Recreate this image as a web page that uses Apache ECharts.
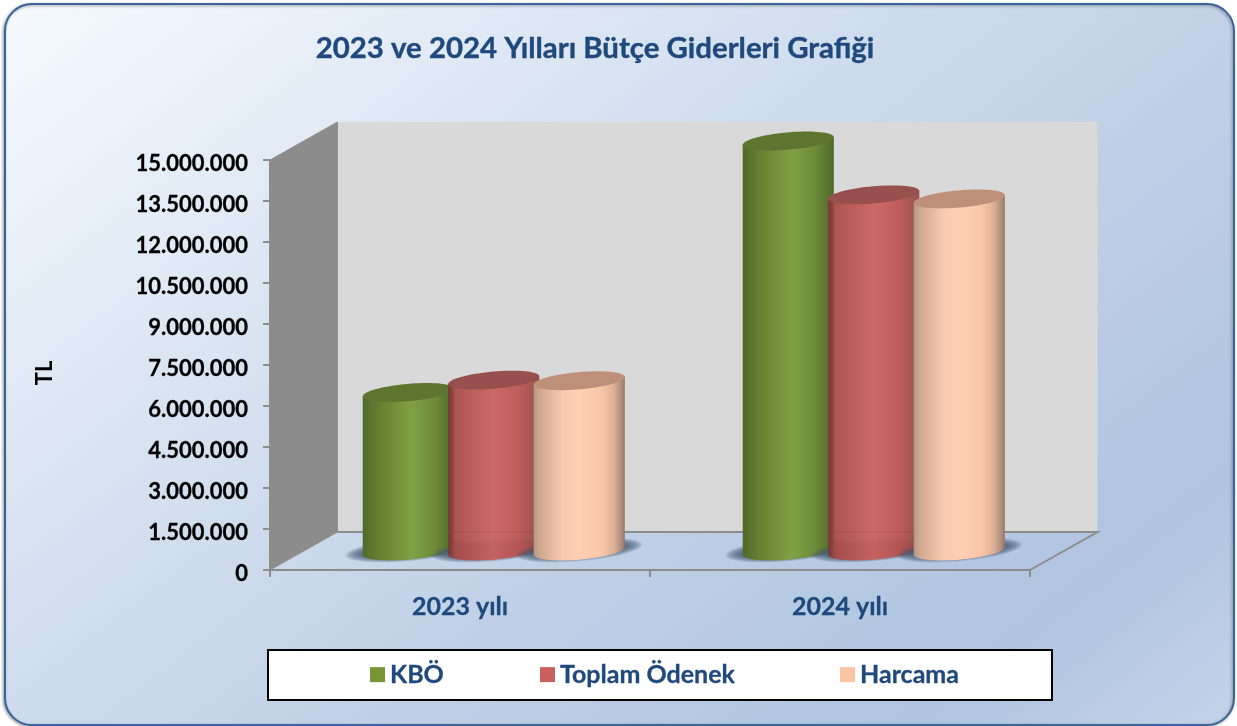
<!DOCTYPE html>
<html>
<head>
<meta charset="utf-8">
<title>Bütçe Giderleri</title>
<style>
  html, body { margin: 0; padding: 0; background: #fff; }
  #chart { width: 1237px; height: 726px; }
</style>
<script src="https://cdn.jsdelivr.net/npm/echarts@6/dist/echarts.min.js"></script>
</head>
<body>
<div id="chart"></div>
<script>
/* data */
const categories = ['2023 yılı', '2024 yılı'];
const seriesNames = ['KBÖ', 'Toplam Ödenek', 'Harcama'];
const kbo = [5800000, 15000000];
const toplamOdenek = [6250000, 13030000];
const harcama = [6230000, 12880000];

/* 3d look of the plot */
const DEPTH_X = 67.5, DEPTH_Y = 38;
const BAR_STEP = 85.5, RX = 45.7, RY = 8.6, TILT = 5 * Math.PI / 180;
const textBlue = '#1f497d';
const fontName = 'Lato';
const legendLeft = [370, 540, 840];

const chart = echarts.init(document.getElementById('chart'));

function hGradient(stops) {
  return new echarts.graphic.LinearGradient(0, 0, 1, 0, stops.map(s => ({ offset: s[0], color: s[1] })));
}

function ellipsePoint(cx, cy, t, a, b) {
  return [
    cx + a * Math.cos(t) * Math.cos(TILT) + b * Math.sin(t) * Math.sin(TILT),
    cy - a * Math.cos(t) * Math.sin(TILT) + b * Math.sin(t) * Math.cos(TILT)
  ];
}

function ellipse(cx, cy, a, b) {
  const pts = [];
  for (let i = 0; i < 72; i++) pts.push(ellipsePoint(cx, cy, i / 72 * Math.PI * 2, a, b));
  return pts;
}

/* walls and floor lines, hung on the grid rectangle */
function renderWalls(params, api) {
  const g = params.coordSys;
  const x0 = g.x, x1 = g.x + g.width, y0 = g.y, y1 = g.y + g.height;
  const lineStyle = { stroke: '#8c8c8c', lineWidth: 2, fill: null };
  return {
    type: 'group',
    children: [
      { type: 'polygon', shape: { points: [[x0 + DEPTH_X, y0 - DEPTH_Y], [x1 + DEPTH_X, y0 - DEPTH_Y], [x1 + DEPTH_X, y1 - DEPTH_Y], [x0 + DEPTH_X, y1 - DEPTH_Y]] }, style: { fill: '#d9d9d9' } },
      { type: 'polygon', shape: { points: [[x0, y0], [x0 + DEPTH_X, y0 - DEPTH_Y], [x0 + DEPTH_X, y1 - DEPTH_Y], [x0, y1]] }, style: { fill: '#8c8c8c', stroke: '#8f8f8f', lineWidth: 1 } },
      { type: 'polyline', shape: { points: [[x0 + DEPTH_X, y1 - DEPTH_Y], [x1 + DEPTH_X, y1 - DEPTH_Y], [x1, y1]] }, style: lineStyle }
    ]
  };
}

/* one cylinder per data item */
function cylinderRenderer(index, bodyStops, topColor, bodyOpacity) {
  return function (params, api) {
    const cat = api.value(0);
    const base = api.coord([cat, 0]);
    const top = api.coord([cat, api.value(1)]);
    const cx = base[0] + DEPTH_X / 2 + (index - 1) * BAR_STEP;
    const by = base[1] - DEPTH_Y / 2;
    const ty = top[1] - DEPTH_Y / 2;
    const t0 = Math.atan2(RY * Math.sin(TILT), RX * Math.cos(TILT));
    const body = [];
    for (let i = 0; i <= 40; i++) body.push(ellipsePoint(cx, by, t0 + i / 40 * Math.PI, RX, RY));
    body.push(ellipsePoint(cx, ty, t0 + Math.PI, RX, RY));
    body.push(ellipsePoint(cx, ty, t0, RX, RY));
    // floor shadow, stacked ellipses for a soft edge
    const shadow = [];
    for (let k = 0; k < 6; k++) {
      shadow.push({
        type: 'polygon',
        shape: { points: ellipse(cx, by - 1, RX + 4 + k * 2.6, RY - 2 + k * 0.9) },
        style: { fill: 'rgba(65,85,110,0.2)' }
      });
    }
    return {
      type: 'group',
      children: shadow.concat([
        {
          type: 'polygon',
          shape: { points: body },
          style: { fill: hGradient(bodyStops), opacity: bodyOpacity }
        },
        {
          type: 'polygon',
          shape: { points: ellipse(cx, ty, RX, RY) },
          style: { fill: topColor }
        }
      ])
    };
  };
}

function barData(values) {
  return values.map((v, i) => [i, v]);
}

chart.setOption({
  backgroundColor: '#fff',
  animation: false,
  textStyle: { fontFamily: fontName },
  title: {
    text: '2023 ve 2024 Yılları Bütçe Giderleri Grafiği',
    left: 590,
    top: 29,
    textAlign: 'center',
    textStyle: { color: textBlue, fontFamily: fontName, fontWeight: 'bold', fontSize: 29.4, textBorderColor: textBlue, textBorderWidth: 0.4 }
  },
  graphic: [
    {
      type: 'rect',
      z: -10,
      shape: { x: 5, y: 4, width: 1229, height: 721, r: 27 },
      style: {
        fill: new echarts.graphic.LinearGradient(5, 4, 814, 1052, [
          { offset: 0, color: '#f6faff' },
          { offset: 0.3, color: '#dae5f2' },
          { offset: 0.45, color: '#ccdaec' },
          { offset: 0.6, color: '#bfd0e6' },
          { offset: 0.85, color: '#afc4e0' },
          { offset: 1, color: '#c3d4e8' }
        ], true),
        stroke: '#3a659b',
        lineWidth: 2,
        shadowBlur: 3,
        shadowColor: 'rgba(0,0,0,0.35)',
        shadowOffsetX: -1,
        shadowOffsetY: 1
      }
    },
    {
      type: 'rect',
      z: 1,
      shape: { x: 268, y: 650, width: 784, height: 50 },
      style: { fill: '#fff', stroke: '#000', lineWidth: 2 }
    },
    {
      type: 'text',
      z: 5,
      x: 45,
      y: 373,
      rotation: Math.PI / 2,
      style: { text: 'TL', fill: '#000', font: 'bold 22px ' + fontName, align: 'center', verticalAlign: 'middle' }
    }
  ],
  legend: seriesNames.map((name, i) => ({
    left: legendLeft[i],
    top: 662,
    z: 10,
    icon: 'rect',
    itemWidth: 15,
    itemHeight: 15,
    padding: 0,
    data: [name],
    textStyle: { color: textBlue, fontFamily: fontName, fontWeight: 'bold', fontSize: 25, textBorderColor: textBlue, textBorderWidth: 0.3 }
  })),
  grid: { left: 270, top: 160, width: 760, height: 410 },
  xAxis: {
    type: 'category',
    data: categories,
    z: 3,
    axisLine: { lineStyle: { color: '#8c8c8c', width: 2 } },
    axisTick: { show: true, length: 7, lineStyle: { color: '#8c8c8c', width: 2 } },
    axisLabel: { color: textBlue, fontFamily: fontName, fontWeight: 'bold', fontSize: 25, margin: 24, textBorderColor: textBlue, textBorderWidth: 0.3 }
  },
  yAxis: {
    type: 'value',
    min: 0,
    max: 15000000,
    interval: 1500000,
    z: 3,
    splitLine: { show: false },
    axisLine: { show: true, lineStyle: { color: '#8c8c8c', width: 2 } },
    axisTick: { show: true, length: 7, lineStyle: { color: '#8c8c8c', width: 2 } },
    axisLabel: {
      color: '#000',
      fontFamily: fontName,
      fontWeight: 'bold',
      fontSize: 22,
      margin: 22,
      verticalAlign: 'top',
      lineHeight: 8,
      textBorderColor: '#000',
      textBorderWidth: 0.3,
      formatter: v => String(v).replace(/\B(?=(\d{3})+$)/g, '.')
    }
  },
  series: [
    { type: 'custom', name: 'walls', z: 1, silent: true, data: [[0, 0]], renderItem: renderWalls, clip: false },
    {
      type: 'custom', name: seriesNames[0], z: 4, data: barData(kbo), itemStyle: { color: '#779436' },
      encode: { x: 0, y: 1 },
      renderItem: cylinderRenderer(0, [[0, '#4f6a2a'], [0.2, '#678232'], [0.55, '#81a045'], [0.8, '#6d8a37'], [1, '#4e682a']], '#5d752f', 1)
    },
    {
      type: 'custom', name: seriesNames[1], z: 5, data: barData(toplamOdenek), itemStyle: { color: '#c9605e' },
      encode: { x: 0, y: 1 },
      renderItem: cylinderRenderer(1, [[0, '#773431'], [0.08, '#a84a48'], [0.5, '#cc605d'], [0.8, '#b9514f'], [1, '#8f4644']], '#98504e', 0.92)
    },
    {
      type: 'custom', name: seriesNames[2], z: 6, data: barData(harcama), itemStyle: { color: '#fcc5a6' },
      encode: { x: 0, y: 1 },
      renderItem: cylinderRenderer(2, [[0, '#b59782'], [0.06, '#cfa68e'], [0.32, '#f8cab0'], [0.5, '#ffcfb3'], [0.75, '#fbc6a8'], [0.88, '#dcb098'], [0.97, '#a98c79'], [1, '#8f7566']], '#bf9079', 1)
    }
  ]
});
</script>
</body>
</html>
